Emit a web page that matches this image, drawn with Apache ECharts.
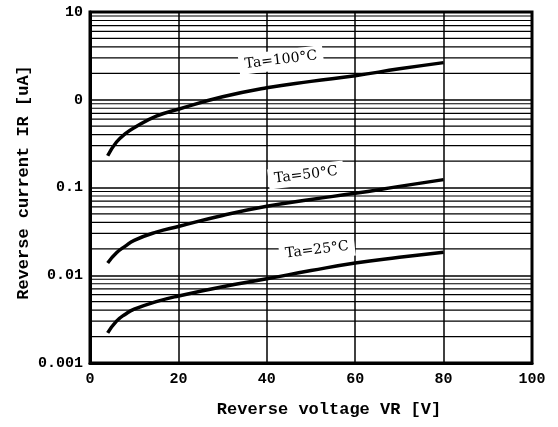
<!DOCTYPE html>
<html>
<head>
<meta charset="utf-8">
<script src="https://cdn.jsdelivr.net/npm/echarts@6/dist/echarts.min.js"></script>
<style>
  html, body { margin: 0; padding: 0; background: #fff; }
  #main { width: 558px; height: 427px; }
</style>
</head>
<body>
<div id="main"></div>
<script>
// reverse voltage (V)
var voltages = [4, 6, 8, 10, 15, 20, 30, 40, 50, 60, 70, 80]
// reverse current (uA)
var ta100 = [0.23, 0.33, 0.41, 0.48, 0.65, 0.78, 1.08, 1.37, 1.62, 1.88, 2.25, 2.65]
var ta50 = [0.0138, 0.018, 0.0215, 0.025, 0.031, 0.036, 0.048, 0.061, 0.073, 0.086, 0.103, 0.123]
var ta25 = [0.0022, 0.003, 0.0036, 0.0041, 0.005, 0.0058, 0.0074, 0.0091, 0.0113, 0.0138, 0.016, 0.0183]
// y tick labels as printed (decades 0.001 .. 10)
var yTickLabels = ['0.001', '0.01', '0.1', '0', '10']
// minor grid lines of the log axis (2..9 in each decade)
var decades = [0.001, 0.01, 0.1, 1]
var minorSteps = [2, 3, 4, 5, 6, 7, 8, 9]
var xRange = [0, 100]

var monoFont = '"Liberation Mono", "DejaVu Sans Mono", monospace'

var chart = echarts.init(document.getElementById('main'))

function curve (name, ys) {
  return {
    name: name,
    type: 'line',
    smooth: true,
    showSymbol: false,
    silent: true,
    z: 5,
    lineStyle: { color: '#000', width: 3.5 },
    data: voltages.map(function (x, i) { return [x, ys[i]] })
  }
}

var series = []
// minor horizontal grid lines, one thin line series each
decades.forEach(function (d) {
  minorSteps.forEach(function (k) {
    var v = +(d * k).toPrecision(3)
    series.push({
      type: 'line',
      silent: true,
      showSymbol: false,
      z: 1,
      lineStyle: { color: '#000', width: 1.2 },
      data: [[xRange[0], v], [xRange[1], v]]
    })
  })
})
series.push(curve('Ta=100°C', ta100), curve('Ta=50°C', ta50), curve('Ta=25°C', ta25))

chart.setOption({
  animation: false,
  backgroundColor: '#fff',
  grid: {
    left: 90, top: 12, right: 26, bottom: 64,
    show: true,
    borderColor: '#000',
    borderWidth: 3
  },
  xAxis: {
    type: 'value',
    min: xRange[0],
    max: xRange[1],
    interval: 20,
    name: 'Reverse voltage VR [V]',
    nameLocation: 'middle',
    nameGap: 38,
    nameTextStyle: { fontFamily: monoFont, fontSize: 17, fontWeight: 'bold', color: '#000', padding: [0, 0, 0, 36] },
    axisLine: { lineStyle: { color: '#000', width: 3 } },
    axisTick: { show: false },
    axisLabel: { margin: 9, fontFamily: monoFont, fontSize: 15, fontWeight: 'bold', color: '#000' },
    splitLine: { show: true, lineStyle: { color: '#000', width: 1.5 } }
  },
  yAxis: {
    type: 'log',
    logBase: 10,
    min: 0.001,
    max: 10,
    name: 'Reverse current IR [uA]',
    nameLocation: 'middle',
    nameGap: 58,
    nameMoveOverlap: false,
    nameTextStyle: { fontFamily: monoFont, fontSize: 17, fontWeight: 'bold', color: '#000', padding: [0, 0, 0, 10] },
    axisLine: { lineStyle: { color: '#000', width: 3 } },
    axisTick: { show: false },
    axisLabel: {
      margin: 7,
      fontFamily: monoFont,
      fontSize: 15,
      fontWeight: 'bold',
      color: '#000',
      formatter: function (v) {
        return yTickLabels[Math.round(Math.log10(v)) + 3]
      }
    },
    splitLine: { show: true, lineStyle: { color: '#000', width: 1.5 } }
  },
  graphic: [
    { type: 'text', x: 281, y: 60, rotation: 0.12, z: 100,
      style: { text: 'Ta=100°C', font: '14px "DejaVu Serif"', fill: '#000', align: 'center', verticalAlign: 'middle', backgroundColor: '#fff', padding: [3, 6] } },
    { type: 'text', x: 306, y: 175, rotation: 0.12, z: 100,
      style: { text: 'Ta=50°C', font: '14px "DejaVu Serif"', fill: '#000', align: 'center', verticalAlign: 'middle', backgroundColor: '#fff', padding: [3, 6] } },
    { type: 'text', x: 317, y: 250, rotation: 0.12, z: 100,
      style: { text: 'Ta=25°C', font: '14px "DejaVu Serif"', fill: '#000', align: 'center', verticalAlign: 'middle', backgroundColor: '#fff', padding: [3, 6] } }
  ],
  series: series
})
</script>
</body>
</html>
